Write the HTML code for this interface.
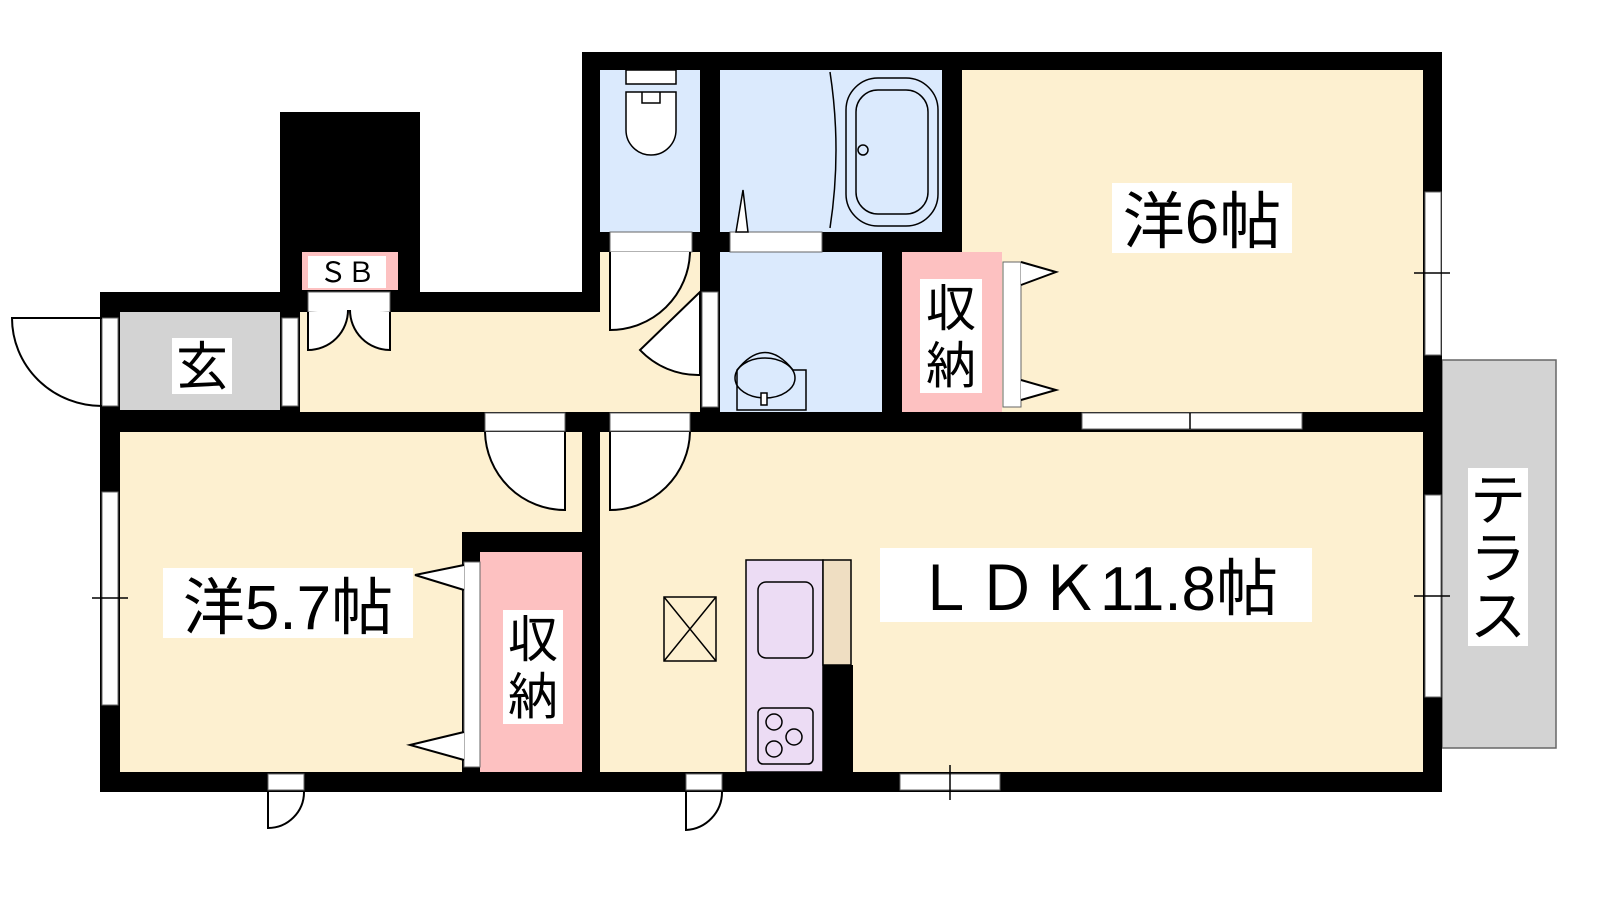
<!DOCTYPE html>
<html><head><meta charset="utf-8"><style>
html,body{margin:0;padding:0;background:#fff;width:1600px;height:900px;overflow:hidden}
svg{display:block;position:absolute;left:0;top:0}
text{font-family:"Liberation Sans","Noto Sans CJK JP",sans-serif;fill:#000}
</style></head><body>
<svg width="1600" height="900" viewBox="0 0 1600 900" xmlns="http://www.w3.org/2000/svg">
<rect x="1442" y="360" width="114" height="388" fill="#d3d3d3" stroke="#666" stroke-width="1.5"/>
<rect x="582" y="52" width="860" height="740" fill="#000"/>
<rect x="100" y="292" width="500" height="500" fill="#000"/>
<rect x="280" y="112" width="140" height="190" fill="#000"/>
<rect x="600" y="70" width="100" height="162" fill="#dbeafd"/>
<rect x="720" y="70" width="222" height="162" fill="#dbeafd"/>
<rect x="962" y="70" width="461" height="342" fill="#fdf0d0"/>
<rect x="720" y="252" width="162" height="160" fill="#dbeafd"/>
<rect x="902" y="252" width="100" height="160" fill="#fdc1c1"/>
<rect x="120" y="312" width="160" height="98" fill="#d3d3d3"/>
<rect x="300" y="312" width="400" height="100" fill="#fdf0d0"/>
<rect x="600" y="252" width="100" height="60" fill="#fdf0d0"/>
<rect x="120" y="432" width="462" height="340" fill="#fdf0d0"/>
<rect x="462" y="532" width="120" height="20" fill="#000"/>
<rect x="462" y="532" width="18" height="240" fill="#000"/>
<rect x="480" y="552" width="102" height="220" fill="#fdc1c1"/>
<rect x="600" y="432" width="823" height="340" fill="#fdf0d0"/>
<rect x="302" y="252" width="96" height="38" fill="#fdc1c1"/>
<g fill="#fff" stroke="#666" stroke-width="1">
<rect x="102" y="318" width="16" height="88"/>
<rect x="282" y="318" width="16" height="88"/>
<rect x="308" y="292" width="82" height="20"/>
<rect x="610" y="232" width="82" height="20"/>
<rect x="730" y="232" width="92" height="20"/>
<rect x="702" y="292" width="16" height="115"/>
<rect x="1003" y="262" width="18" height="145"/>
<rect x="1082" y="413" width="220" height="16"/>
<rect x="485" y="413" width="80" height="18"/>
<rect x="610" y="413" width="80" height="18"/>
<rect x="102" y="492" width="16" height="213"/>
<rect x="1425" y="192" width="16" height="163"/>
<rect x="1425" y="495" width="16" height="202"/>
<rect x="464" y="562" width="16" height="205"/>
<rect x="900" y="774" width="100" height="16"/>
<rect x="268" y="774" width="36" height="16"/>
<rect x="686" y="774" width="36" height="16"/>
</g>
<g stroke="#000" stroke-width="2" fill="none">
<path d="M102 318 H12 A90 88 0 0 0 102 406"/>
<path d="M308 312 V350 A40 40 0 0 0 348 310 M390 312 V350 A40 40 0 0 1 350 310" fill="#fff"/>
<path d="M610 252 V330 A80 80 0 0 0 690 252" fill="#fff"/>
<path d="M700 292 L640 350 A80 80 0 0 0 700 375 Z" fill="#fff"/>
<path d="M565 432 V510 A80 80 0 0 1 485 432" fill="#fff"/>
<path d="M610 432 V510 A80 80 0 0 0 690 432" fill="#fff"/>
<path d="M268 792 V828 A36 36 0 0 0 304 792"/>
<path d="M686 792 V830 A38 38 0 0 0 722 792"/>
<path d="M1021 262 L1056 272 L1021 285 M1021 380 L1056 390 L1021 400" fill="#fff"/>
<path d="M464 565 L415 575 L464 590 M464 732 L410 745 L464 760" fill="#fff"/>
<rect x="626" y="70" width="50" height="14" fill="#fff" stroke-width="1.5"/>
<path d="M626 92 H676 V130 A25 25 0 0 1 626 130 Z" fill="#fff" stroke-width="1.5"/>
<path d="M642 92 V103 H660 V92" stroke-width="1.5"/>
<path d="M830 72 Q842 150 830 228" stroke-width="1.5"/>
<rect x="846" y="78" width="92" height="148" rx="32" stroke-width="1.5"/>
<rect x="856" y="90" width="72" height="124" rx="22" stroke-width="1.5"/>
<circle cx="863" cy="150" r="5" stroke-width="1.5"/>
<path d="M743 190 L736 232 L748 232 Z" fill="#fff" stroke-width="1.5"/>
<path d="M737 370 Q765 335 793 370 L806 370 V410 H737 Z" fill="#dbeafd" stroke-width="1.5"/>
<ellipse cx="765" cy="378" rx="30" ry="20" stroke-width="1.5"/>
<rect x="761" y="393" width="6" height="12" fill="#fff" stroke-width="1.5"/>
<rect x="746" y="560" width="77" height="212" fill="#ecdcf4" stroke-width="1.5"/>
<rect x="823" y="560" width="28" height="105" fill="#efdec2" stroke-width="1.5"/>
<rect x="758" y="582" width="55" height="76" rx="8" stroke-width="1.5"/>
<rect x="758" y="708" width="55" height="56" rx="5" stroke-width="1.5"/>
<circle cx="774" cy="722" r="8" stroke-width="1.5"/>
<circle cx="794" cy="737" r="8" stroke-width="1.5"/>
<circle cx="774" cy="749" r="8" stroke-width="1.5"/>
<rect x="664" y="597" width="52" height="64" stroke-width="1.5"/>
<path d="M664 597 L716 661 M716 597 L664 661" stroke-width="1.5"/>
<path d="M1414 273 H1450 M1414 596 H1450 M92 598 H128 M950 765 V800" stroke-width="1.5"/>
<path d="M1190 413 V429" stroke-width="1.5"/>
</g>
<rect x="823" y="665" width="30" height="107" fill="#000"/>
<rect x="308" y="256" width="78" height="32" fill="#fff"/>
<text x="347" y="282" font-size="28" text-anchor="middle">ＳＢ</text>
<rect x="172" y="338" width="60" height="56" fill="#fff"/>
<text x="202" y="385" font-size="52" text-anchor="middle">玄</text>
<rect x="1112" y="183" width="180" height="70" fill="#fff"/>
<text x="1202" y="243" font-size="62" text-anchor="middle">洋6帖</text>
<rect x="920" y="279" width="62" height="114" fill="#fff"/>
<text x="951" y="326" font-size="50" text-anchor="middle">収</text>
<text x="951" y="383" font-size="50" text-anchor="middle">納</text>
<rect x="503" y="610" width="60" height="114" fill="#fff"/>
<text x="533" y="657" font-size="50" text-anchor="middle">収</text>
<text x="533" y="714" font-size="50" text-anchor="middle">納</text>
<rect x="163" y="568" width="250" height="70" fill="#fff"/>
<text x="288" y="629" font-size="62" text-anchor="middle">洋5.7帖</text>
<rect x="880" y="548" width="432" height="74" fill="#fff"/>
<text x="1096" y="610" font-size="62" text-anchor="middle">ＬＤＫ11.8帖</text>
<rect x="1468" y="468" width="60" height="178" fill="#fff"/>
<text x="1498" y="520" font-size="56" text-anchor="middle">テ</text>
<text x="1498" y="578" font-size="56" text-anchor="middle">ラ</text>
<text x="1498" y="636" font-size="56" text-anchor="middle">ス</text>
</svg>
</body></html>
